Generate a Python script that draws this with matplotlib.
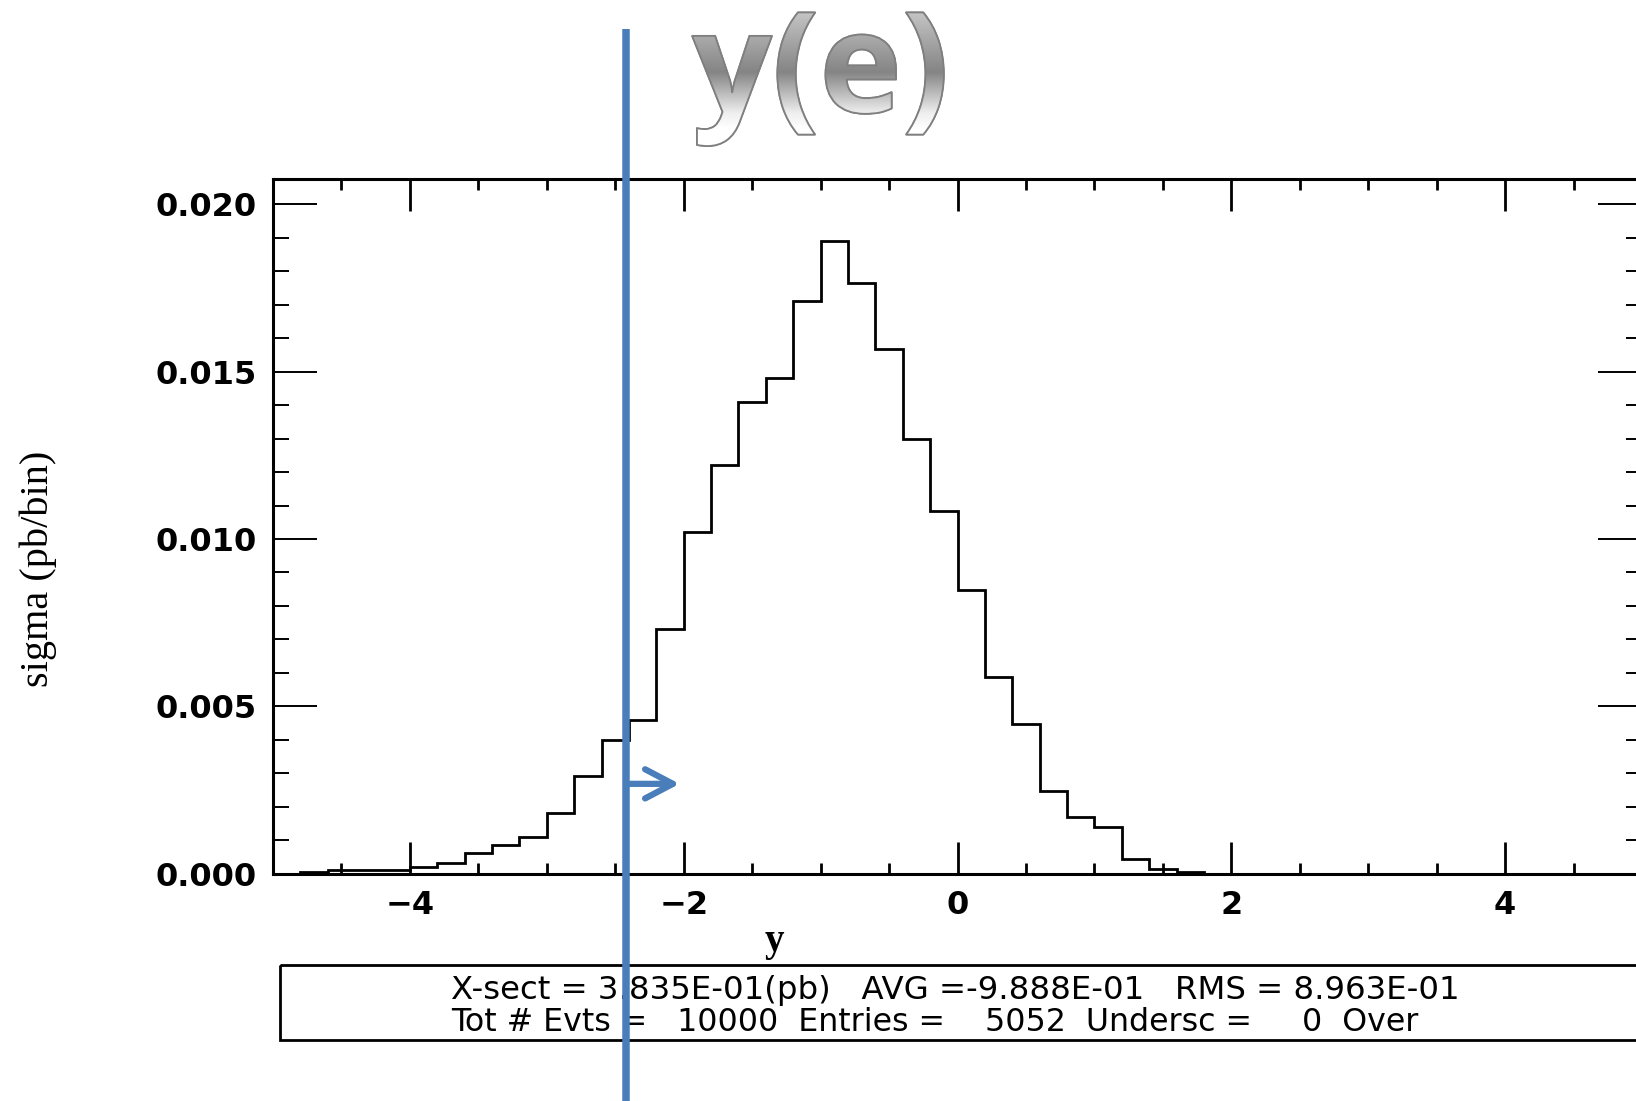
import matplotlib
matplotlib.use("Agg")
import matplotlib.pyplot as plt
import numpy as np
from matplotlib.textpath import TextPath
from matplotlib.font_manager import FontProperties
from matplotlib.patches import PathPatch, Rectangle
from matplotlib.transforms import Affine2D
from matplotlib.ticker import MultipleLocator, FormatStrFormatter
import matplotlib.patheffects as pe

# ---- data: rapidity of the electron, 0.2-wide bins on [-5, 5] ----
bin_edges = np.round(np.linspace(-5.0, 5.0, 51), 1)
sigma = [
    0.0, 0.00003, 0.00011, 0.00011, 0.00011, 0.00020, 0.00030, 0.00060, 0.00085, 0.00108,
    0.00180, 0.00290, 0.00400, 0.00460, 0.00730, 0.01020, 0.01220, 0.01410, 0.01480, 0.01710,
    0.01890, 0.01765, 0.01567, 0.01300, 0.01083, 0.00847, 0.00587, 0.00448, 0.00248, 0.00170,
    0.00140, 0.00042, 0.00013, 0.00005, 0.0, 0.0, 0.0, 0.0, 0.0, 0.0,
    0.0, 0.0, 0.0, 0.0, 0.0, 0.0, 0.0, 0.0, 0.0, 0.0,
]
y_cut = -2.42          # rapidity cut marked on the plot
arrow_level = 0.00268  # height of the "accepted side" arrow
arrow_tip = -2.03

title = "y(e)"
x_label = "y"
y_label = "sigma (pb/bin)"

xsect = "3.835E-01"
avg = "-9.888E-01"
rms = "8.963E-01"
tot_evts = 10000
entries = 5052
undersc = 0

BLUE = "#4A7EBB"
W, H, DPI = 1636, 1101, 100

plt.rcParams["font.family"] = ["DejaVu Sans"]
plt.rcParams["font.weight"] = "bold"

fig = plt.figure(figsize=(W / DPI, H / DPI), dpi=DPI)

# pixel-space layer for the headline and the statistics box (y grows downward)
over = fig.add_axes([0, 0, 1, 1], zorder=0)
over.axis("off")

# ---- silver gradient headline ----
# headline box in pixels: left, right, top, bottom
TL, TR, TT, TB = 692, 944, 12.5, 146
want_aspect = (TR - TL) / (TB - TT)
best = None
for fam in ("Lato", "Open Sans", "Noto Sans", "Roboto", "Inter", "DejaVu Sans"):
    prop = FontProperties(family=fam, weight="bold")
    e = TextPath((0, 0), title, size=100, prop=prop).get_extents()
    score = abs(np.log((e.width / e.height) / want_aspect))
    if best is None or score < best[0]:
        best = (score, prop, e)
_, title_prop, pe_ext = best
size_px = 100 * (TB - TT) / pe_ext.height
scale = size_px / 100
x_left = (TL + TR) / 2 - scale * (pe_ext.x0 + pe_ext.width / 2)
baseline = TT + scale * pe_ext.y1
over.text(x_left, baseline, title, fontproperties=title_prop, fontsize=size_px * 72 / DPI,
          color="#a0a0a0", ha="left", va="baseline", zorder=2,
          path_effects=[pe.withStroke(linewidth=1.5, foreground="#7f7f7f")])
tp = TextPath((0, 0), title, size=size_px, prop=title_prop)
title_path = Affine2D().scale(1, -1).translate(x_left, baseline).transform_path(tp)
ext = title_path.get_extents()
clip_patch = PathPatch(title_path, facecolor="none", edgecolor="none")
over.add_patch(clip_patch)
t = np.linspace(0, 1, 256)
gray = np.interp(t, [0.0, 0.45, 0.75, 0.86, 1.0], [0.78, 0.52, 0.94, 1.0, 1.0])
grad = np.repeat(gray[:, None, None], 3, axis=2)
im = over.imshow(grad, extent=[ext.x0 - 2, ext.x1 + 2, ext.y1 + 2, ext.y0 - 2], origin="upper",
                 aspect="auto", interpolation="bilinear", zorder=3)
im.set_clip_path(clip_patch)
over.add_patch(PathPatch(title_path, facecolor="none", edgecolor="#7f7f7f", lw=1.2, zorder=4))

# ---- statistics box ----
over.add_patch(Rectangle((280, 965), 1500, 75, fill=False, edgecolor="black", lw=2.0, zorder=2))
line1 = f"X-sect = {xsect}(pb)   AVG ={avg}   RMS = {rms}"
line2 = f"Tot # Evts =   {tot_evts}  Entries =    {entries}  Undersc =     {undersc}  Over"
stat_font = dict(family="DejaVu Sans", fontweight="normal", color="black",
                 va="center", ha="left", fontsize=20)
s1 = over.text(451, 990, line1, **stat_font)
s2 = over.text(451, 1022.5, line2, **stat_font)

over.set_xlim(0, W)
over.set_ylim(H, 0)

# ---- histogram ----
ax = fig.add_axes([273 / W, (H - 873.5) / H, (1642 - 273) / W, (873.5 - 179) / H], zorder=1)
ax.patch.set_alpha(0)
ax.stairs(sigma, bin_edges, color="black", lw=2.0)
ax.set_xlim(-5, 5)
ax.set_ylim(0, 0.02076)

ax.xaxis.set_major_locator(MultipleLocator(2))
ax.xaxis.set_minor_locator(MultipleLocator(0.5))
ax.yaxis.set_major_locator(MultipleLocator(0.005))
ax.yaxis.set_minor_locator(MultipleLocator(0.001))
ax.yaxis.set_major_formatter(FormatStrFormatter("%.3f"))
ax.tick_params(which="both", direction="in", top=True, right=True, colors="black")
ax.tick_params(axis="x", which="major", length=23, width=2.0, pad=12, labelsize=23)
ax.tick_params(axis="x", which="minor", length=8, width=2.0)
ax.tick_params(axis="y", which="major", length=32, width=1.4, pad=12, labelsize=23)
ax.tick_params(axis="y", which="minor", length=11.5, width=1.4)
for sp in ax.spines.values():
    sp.set_linewidth(2.2)

ax.set_xlabel(x_label, family="Liberation Serif", fontweight="bold", fontsize=28)
ax.xaxis.set_label_coords((774 - 273) / 1369, (873.5 - 942) / 694.5)
ax.xaxis.label.set_va("center")
ax.set_ylabel(y_label, family="Liberation Serif", fontweight="normal", fontsize=29)
ax.yaxis.set_label_coords((38 - 273) / 1369, (873.5 - 569) / 694.5)
ax.yaxis.label.set_va("center")

# cut line and arrow
ax.axvline(y_cut, ymin=-0.34, ymax=(873.5 - 29) / 694.5, color=BLUE, lw=5.4,
           solid_capstyle="butt", clip_on=False, zorder=6)
ax.annotate("", xy=(arrow_tip, arrow_level), xytext=(y_cut, arrow_level),
            arrowprops=dict(arrowstyle="->,head_length=2.0,head_width=1.05", color=BLUE,
                            lw=4.5, shrinkA=0, shrinkB=0),
            annotation_clip=False, zorder=6)

# fit the statistics lines to their printed widths
renderer = fig.canvas.get_renderer()
for txt, target in ((s1, 1012), (s2, 966)):
    for _ in range(2):
        w = txt.get_window_extent(renderer).width
        txt.set_fontsize(txt.get_fontsize() * target / w)

fig.savefig("out.png", dpi=DPI)
